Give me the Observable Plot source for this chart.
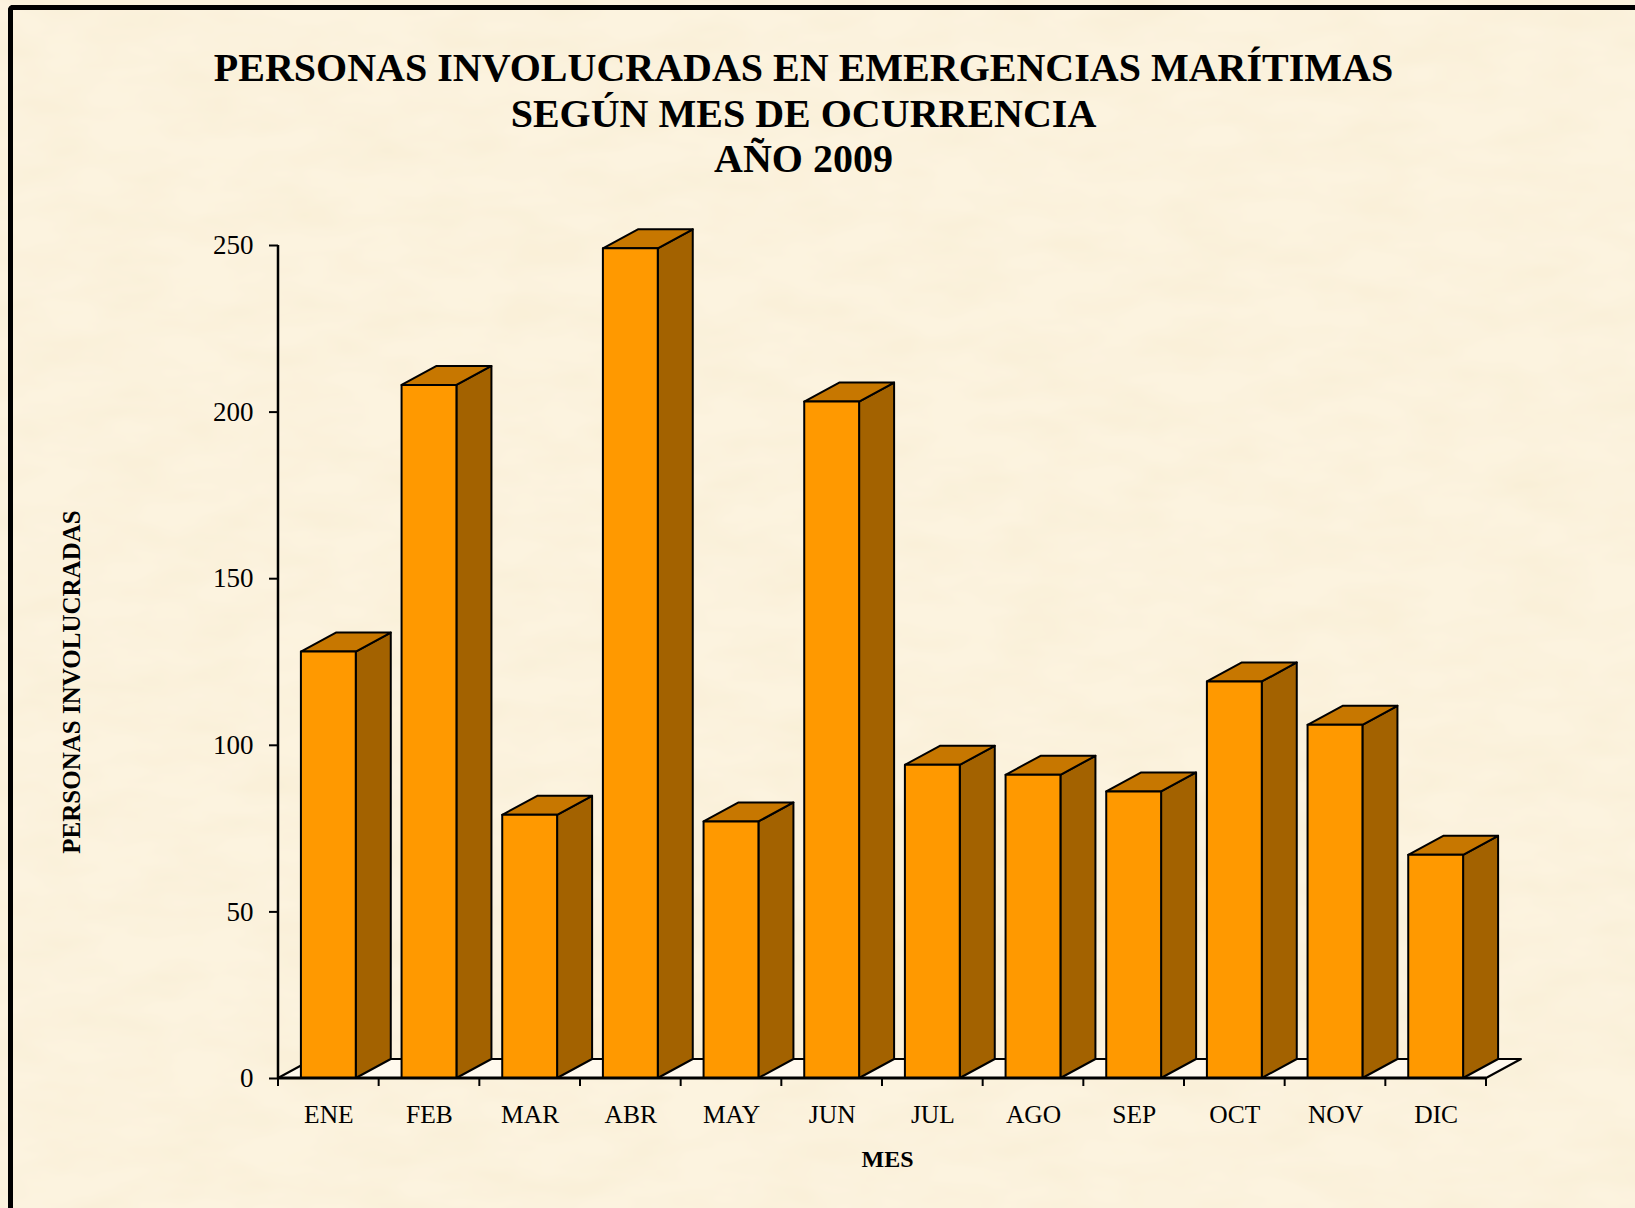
<!DOCTYPE html>
<html><head><meta charset="utf-8">
<script src="https://cdn.jsdelivr.net/npm/d3@7"></script>
<script src="https://cdn.jsdelivr.net/npm/@observablehq/plot@0.6"></script>
<style>
html,body{margin:0;padding:0}
body{width:1635px;height:1208px;overflow:hidden;position:relative;background:#FBF1DC;font-family:"Liberation Serif",serif}
#tex{position:absolute;left:0;top:0}
#frame{position:absolute;left:8px;top:5px;width:1700px;height:1300px;border-left:5px solid #000;border-top:5px solid #000;border-top-left-radius:5px}
#title{position:absolute;left:0;top:45px;width:1607px;text-align:center;font-weight:bold;font-size:40px;line-height:45.5px;color:#000}
#chart{position:absolute;left:0;top:200px}
#chart svg g[aria-label^="y-axis"] line, #chart svg g[aria-label^="y-axis"] path{stroke-width:2}
</style></head><body>
<svg id="tex" width="1635" height="1208">
  <filter id="n" x="0" y="0" width="100%" height="100%">
    <feTurbulence type="fractalNoise" baseFrequency="0.012 0.03" numOctaves="3" seed="7"/>
    <feColorMatrix values="0 0 0 0 0.93  0 0 0 0 0.84  0 0 0 0 0.64  0 0 0 0.9 -0.28"/>
  </filter>
  <rect width="1635" height="1208" fill="#FCF3DF"/>
  <rect width="1635" height="1208" filter="url(#n)"/>
</svg>
<div id="frame"></div>
<div id="title"></div>
<div id="chart"></div>
<script>
const titleLines = ["PERSONAS INVOLUCRADAS EN EMERGENCIAS MARÍTIMAS", "SEGÚN MES DE OCURRENCIA", "AÑO 2009"];
const months = ["ENE", "FEB", "MAR", "ABR", "MAY", "JUN", "JUL", "AGO", "SEP", "OCT", "NOV", "DIC"];
const persons = [128, 208, 79, 249, 77, 203, 94, 91, 86, 119, 106, 67];
const yTicks = [0, 50, 100, 150, 200, 250];
const yLabel = "PERSONAS INVOLUCRADAS";
const xLabel = "MES";

document.getElementById("title").innerHTML = titleLines.map(t => `<div>${t}</div>`).join("");

const FRONT = "#FF9900", SIDE = "#A36200", TOP = "#C77700";

function bars3d(index, scales) {
  const sx = scales.x, sy = scales.y;
  const bw = sx.bandwidth();
  const step = sx.step ? sx.step() : bw;
  const [r0, r1] = sx.range();
  const y0 = sy(0);
  const DX = 35, DY = 19;
  const g = d3.create("svg:g").attr("stroke", "#000").attr("stroke-linejoin", "round");
  // floor
  g.append("path")
    .attr("d", `M${r0},${y0}L${r1},${y0}L${r1 + DX},${y0 - DY}L${r0 + DX},${y0 - DY}Z`)
    .attr("fill", "#FFF9EE").attr("stroke-width", 2);
  // bars
  months.forEach((m, i) => {
    const v = persons[i];
    const xc = sx(m) + bw / 2;
    const w = bw * 0.545;
    const xl = xc - w / 2, xr = xc + w / 2;
    const yt = sy(v);
    g.append("path")
      .attr("d", `M${xr},${y0}L${xr + DX},${y0 - DY}L${xr + DX},${yt - DY}L${xr},${yt}Z`)
      .attr("fill", SIDE).attr("stroke-width", 2);
    g.append("path")
      .attr("d", `M${xl},${yt}L${xl + DX},${yt - DY}L${xr + DX},${yt - DY}L${xr},${yt}Z`)
      .attr("fill", TOP).attr("stroke-width", 2);
    g.append("rect")
      .attr("x", xl).attr("y", yt).attr("width", w).attr("height", y0 - yt)
      .attr("fill", FRONT).attr("stroke-width", 2);
  });
  // front edge of floor (x axis line)
  g.append("line").attr("x1", r0).attr("x2", r1).attr("y1", y0).attr("y2", y0).attr("stroke-width", 3);
  // x ticks at category boundaries
  for (let i = 0; i <= months.length; i++) {
    const xt = r0 + i * step;
    g.append("line").attr("x1", xt).attr("x2", xt).attr("y1", y0).attr("y2", y0 + 8).attr("stroke-width", 2);
  }
  // y axis line
  g.append("line").attr("x1", r0).attr("x2", r0).attr("y1", y0).attr("y2", sy(250)).attr("stroke-width", 2.5);
  return g.node();
}

const chart = Plot.plot({
  width: 1635,
  height: 1008,
  marginLeft: 278,
  marginRight: 149,
  marginTop: 45,
  marginBottom: 130,
  style: {background: "transparent", fontFamily: "Liberation Serif", fontSize: "27px", color: "#000", overflow: "visible"},
  x: {type: "band", domain: months, padding: 0, round: false, axis: null},
  y: {domain: [0, 250], ticks: yTicks, tickSize: 9, tickPadding: 16, label: null, tickFormat: d => String(d)},
  marks: [
    bars3d,
    Plot.text(months, {x: d => d, frameAnchor: "bottom", dy: 44, fontSize: 25.5}),
    Plot.text([yLabel], {frameAnchor: "left", textAnchor: "middle", dx: -207, dy: 20, rotate: -90, fontWeight: "bold", fontSize: 25}),
    Plot.text([xLabel], {frameAnchor: "bottom", dx: 5, dy: 88, fontWeight: "bold", fontSize: 24})
  ]
});
document.getElementById("chart").appendChild(chart);
</script>
</body></html>
